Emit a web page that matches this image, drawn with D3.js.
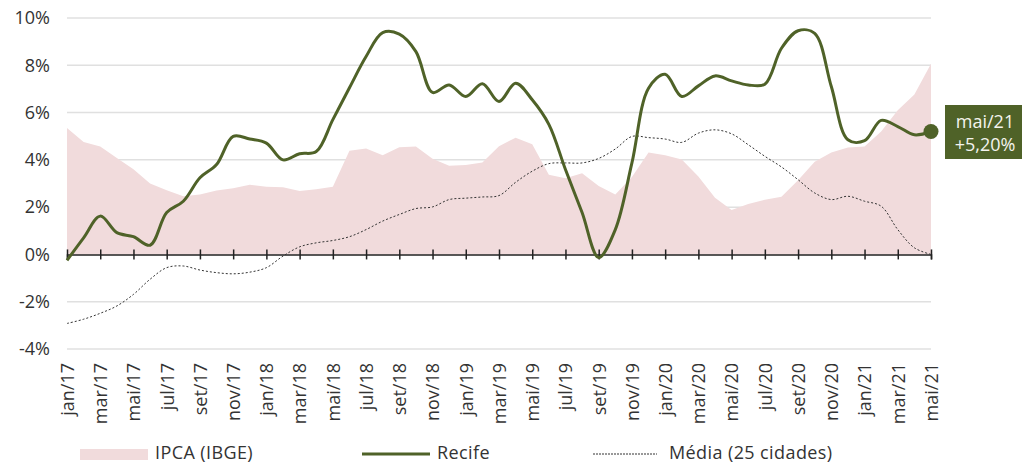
<!DOCTYPE html>
<html>
<head>
<meta charset="utf-8">
<script src="https://cdn.jsdelivr.net/npm/d3@7"></script>
<style>
  body { margin: 0; background: #fff; }
  text { font-family: "Open Sans", sans-serif; }
</style>
</head>
<body>
<div id="chart"></div>
<script>
// month labels jan/17 .. mai/21
var monthNames = ["jan", "fev", "mar", "abr", "mai", "jun", "jul", "ago", "set", "out", "nov", "dez"];
var months = [];
for (var yr = 17; yr <= 21; yr++) {
    monthNames.forEach(function (m, i) {
        if (yr < 21 || i <= 4) months.push(m + "/" + yr);
    });
}

// IPCA (IBGE), 12 months accumulated
var ipca = [5.35, 4.76, 4.57, 4.08, 3.60, 3.00, 2.71, 2.46, 2.54, 2.70, 2.80, 2.95,
    2.86, 2.84, 2.68, 2.76, 2.86, 4.39, 4.48, 4.19, 4.53, 4.56, 4.05, 3.75,
    3.78, 3.89, 4.58, 4.94, 4.66, 3.37, 3.22, 3.43, 2.89, 2.54, 3.27, 4.31,
    4.19, 4.01, 3.30, 2.40, 1.88, 2.13, 2.31, 2.44, 3.14, 3.92, 4.31, 4.52,
    4.56, 5.20, 6.10, 6.76, 8.06];

// Recife
var recife = [-0.25, 0.70, 1.62, 0.92, 0.75, 0.39, 1.77, 2.25, 3.24, 3.80, 4.99, 4.88,
    4.71, 4.00, 4.26, 4.35, 5.70, 7.05, 8.37, 9.38, 9.32, 8.58, 6.85, 7.17,
    6.68, 7.22, 6.47, 7.24, 6.54, 5.50, 3.59, 1.77, -0.13, 1.05, 3.87, 7.03,
    7.62, 6.68, 7.13, 7.55, 7.34, 7.17, 7.20, 8.72, 9.46, 9.35, 7.10, 4.85,
    4.81, 5.67, 5.41, 5.06, 5.20];

// Média (25 cidades)
var media = [-2.92, -2.74, -2.49, -2.18, -1.69, -1.05, -0.56, -0.49, -0.66, -0.77, -0.82, -0.75,
    -0.56, -0.07, 0.32, 0.49, 0.59, 0.75, 1.05, 1.41, 1.69, 1.94, 2.01, 2.32,
    2.38, 2.43, 2.49, 3.05, 3.52, 3.84, 3.87, 3.87, 4.06, 4.46, 4.99, 4.94,
    4.88, 4.74, 5.13, 5.27, 5.10, 4.64, 4.15, 3.70, 3.16, 2.60, 2.32, 2.46,
    2.25, 2.04, 1.05, 0.28, 0.00];

var yTicks = [-4, -2, 0, 2, 4, 6, 8, 10];

var svgWidth = 1022;
var svgHeight = 463;
var green = "#4f6228";
var pink = "#f1dbdc";
var textColor = "#333";

var svg = d3.select("#chart")
    .append("svg")
    .attr("width", svgWidth)
    .attr("height", svgHeight);

var x = d3.scaleLinear().domain([0, months.length - 1]).range([67, 931]);
var y = d3.scaleLinear().domain([-4, 10]).range([349, 18]);

// gridlines
svg.append("g")
    .selectAll("line")
    .data(yTicks.filter(function (d) { return d !== 0; }))
    .enter().append("line")
    .attr("x1", x(0))
    .attr("x2", x(months.length - 1))
    .attr("y1", function (d) { return y(d); })
    .attr("y2", function (d) { return y(d); })
    .attr("stroke", "#e0e0e0")
    .attr("stroke-width", 1.5);

// y labels
svg.append("g")
    .selectAll("text")
    .data(yTicks)
    .enter().append("text")
    .attr("x", 50)
    .attr("y", function (d) { return y(d); })
    .attr("dy", "0.35em")
    .attr("text-anchor", "end")
    .attr("font-size", 18)
    .attr("fill", textColor)
    .text(function (d) { return d + "%"; });

// IPCA area
var area = d3.area()
    .x(function (d, i) { return x(i); })
    .y0(y(0))
    .y1(function (d) { return y(d); });

svg.append("path")
    .datum(ipca)
    .attr("d", area)
    .attr("fill", pink);

// zero axis with ticks every two months
var tickIdx = d3.range(0, months.length, 2);
var xAxis = svg.append("g")
    .attr("transform", "translate(0," + y(0) + ")")
    .call(d3.axisBottom(x).tickValues(tickIdx).tickSize(5).tickFormat(""));
xAxis.select(".domain").attr("stroke", "#222").attr("stroke-width", 1.5);
xAxis.selectAll(".tick line").attr("y1", -5).attr("y2", 5).attr("stroke", "#222").attr("stroke-width", 1.5);

// rotated month labels
var labelAxis = svg.append("g")
    .attr("transform", "translate(0,363)")
    .call(d3.axisBottom(x).tickValues(tickIdx).tickSize(0)
        .tickFormat(function (i) { return months[i]; }));
labelAxis.select(".domain").remove();
labelAxis.selectAll("text")
    .attr("transform", "rotate(-90)")
    .attr("text-anchor", "end")
    .attr("x", 0)
    .attr("y", 0)
    .attr("dy", "0.35em")
    .attr("font-size", 18)
    .attr("font-family", "Open Sans, sans-serif")
    .attr("fill", textColor);

// lines
var line = d3.line()
    .x(function (d, i) { return x(i); })
    .y(function (d) { return y(d); })
    .curve(d3.curveCatmullRom.alpha(0.5));

svg.append("path")
    .datum(media)
    .attr("d", line)
    .attr("fill", "none")
    .attr("stroke", "#333")
    .attr("stroke-width", 1)
    .attr("stroke-dasharray", "2,2");

svg.append("path")
    .datum(recife)
    .attr("d", line)
    .attr("fill", "none")
    .attr("stroke", green)
    .attr("stroke-width", 3);

// last point marker + label
var last = recife.length - 1;
svg.append("circle")
    .attr("cx", x(last))
    .attr("cy", y(recife[last]))
    .attr("r", 7.5)
    .attr("fill", green);

svg.append("rect")
    .attr("x", 945)
    .attr("y", 105)
    .attr("width", 80)
    .attr("height", 54)
    .attr("fill", green);

svg.append("text")
    .attr("x", 985)
    .attr("y", 128)
    .attr("text-anchor", "middle")
    .attr("font-size", 18)
    .attr("fill", "#f4f4ee")
    .text(months[last]);

svg.append("text")
    .attr("x", 985)
    .attr("y", 151)
    .attr("text-anchor", "middle")
    .attr("font-size", 18)
    .attr("fill", "#f4f4ee")
    .text("+" + recife[last].toFixed(2).replace(".", ",") + "%");

// legend
var legend = svg.append("g")
    .attr("font-size", 18)
    .attr("letter-spacing", 0.4)
    .attr("fill", textColor);
legend.append("rect")
    .attr("x", 80).attr("y", 449).attr("width", 68).attr("height", 11)
    .attr("fill", pink);
legend.append("text")
    .attr("x", 155).attr("y", 459)
    .text("IPCA (IBGE)");
legend.append("line")
    .attr("x1", 362).attr("x2", 430).attr("y1", 454).attr("y2", 454)
    .attr("stroke", green).attr("stroke-width", 3);
legend.append("text")
    .attr("x", 437).attr("y", 459)
    .text("Recife");
legend.append("line")
    .attr("x1", 593).attr("x2", 657).attr("y1", 454).attr("y2", 454)
    .attr("stroke", "#333").attr("stroke-width", 1).attr("stroke-dasharray", "2,1");
legend.append("text")
    .attr("x", 669).attr("y", 459)
    .text("Média (25 cidades)");
</script>
</body>
</html>
